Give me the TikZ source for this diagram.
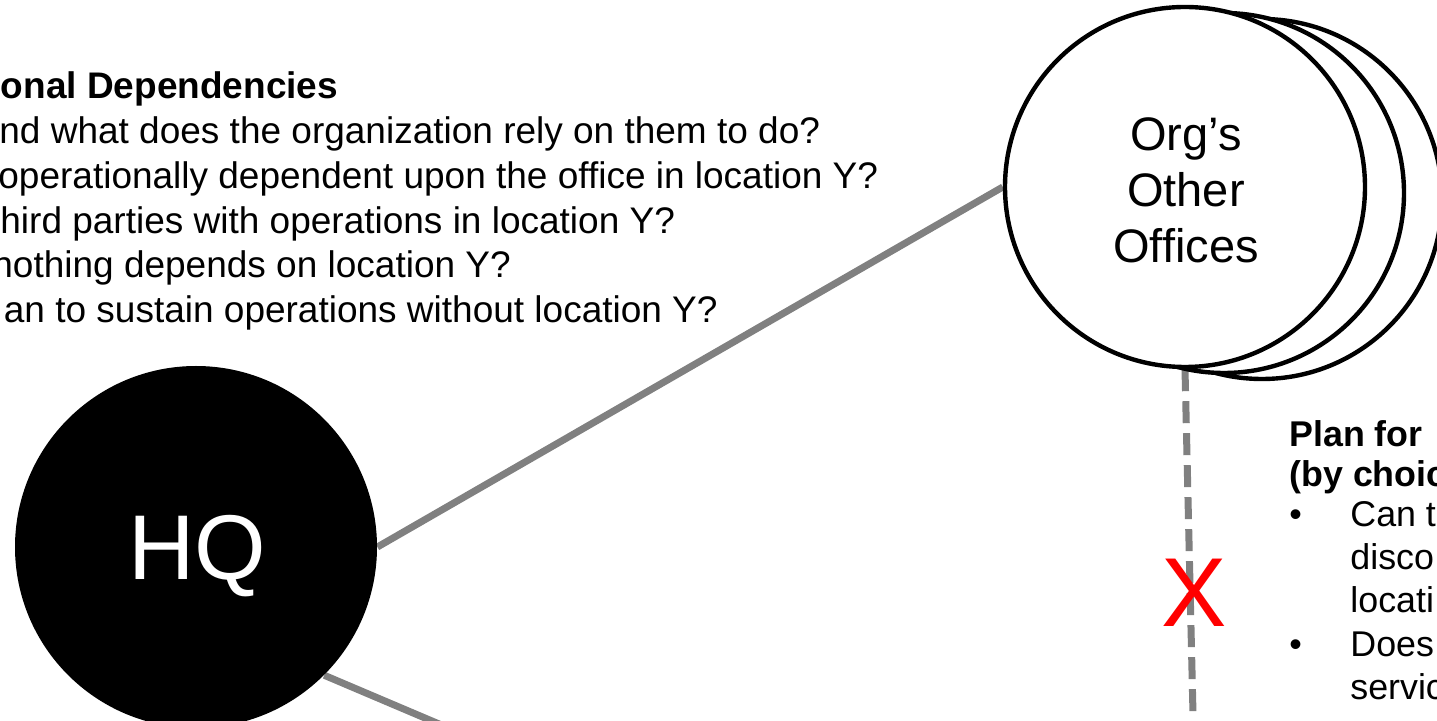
\documentclass[tikz,border=0pt]{standalone}
\usepackage{fontspec}
\setmainfont{Liberation Sans}
\usetikzlibrary{backgrounds}
\definecolor{linkgray}{HTML}{808080}
\definecolor{crossred}{HTML}{FF0000}
\begin{document}
\begin{tikzpicture}[x=0.5pt,y=-0.5pt,
  conn/.style={draw=linkgray, line width=3.5pt},
  office/.style={circle, draw=black, line width=2.2pt, fill=white, minimum size=180pt, inner sep=0pt},
  hub/.style={circle, fill=black, minimum size=181pt, inner sep=0pt},
  lefttxt/.style={anchor=base west, inner sep=0pt, font=\fontsize{18.5}{22.5}\selectfont},
  righttxt/.style={anchor=base west, inner sep=0pt, font=\fontsize{17.9}{21}\selectfont},
  rightbold/.style={righttxt, font=\bfseries\fontsize{17.9}{21}\selectfont},
]
\useasboundingbox (0,0) rectangle (1437,721);
\clip (0,0) rectangle (1437,721);

% questions on operational dependencies
\node[lefttxt, font=\bfseries\fontsize{18.5}{22.5}\selectfont] (q0) at (0.5,99) {onal Dependencies};
\node[lefttxt] (q1) at (-1,144) {nd what does the organization rely on them to do?};
\node[lefttxt] (q2) at (-2,189) {operationally dependent upon the office in location Y?};
\node[lefttxt] (q3) at (0,234) {hird parties with operations in location Y?};
\node[lefttxt] (q4) at (-8,278) {nothing depends on location Y?};
\node[lefttxt] (q5) at (3.5,323) {an to sustain operations without location Y?};

% headquarters
\node[hub] (hq) at (196,547) {};
\node[anchor=base, inner sep=0pt, text=white, font=\fontsize{46}{55}\selectfont] (hqtxt) at (197.5,580) {HQ};

% stack of other offices, back to front
\node[office] (off3) at (1262,199) {};
\node[office] (off2) at (1224,193) {};
\node[office] (off) at (1185,187) {};
\node[align=center, inner sep=0pt, font=\fontsize{23.5}{28}\selectfont] (offtxt) at (1186,190) {Org’s\\Other\\Offices};

% off-page ends of the connectors
\coordinate (far) at (724,845);
\coordinate (below) at (1195,800);

\begin{pgfonlayer}{background}
  \draw[conn] (hq.east) -- (off.west);
  \draw[conn] (hq.south east) -- (far);
  \draw[conn, dash pattern=on 11pt off 5pt] (off.south) -- (below);
\end{pgfonlayer}

% cut link
\node[anchor=base, inner sep=0pt, text=crossred, font=\fontsize{49}{49}\selectfont] (cut) at (1194,627) {X};

% plan for the loss of the office
\node[rightbold] (p0) at (1289,447) {Plan for};
\node[rightbold] (p1) at (1289,487) {(by choic};
\node[righttxt] (b1) at (1289,527) {•};
\node[righttxt] (p2) at (1350,527) {Can t};
\node[righttxt] (p3) at (1350,570) {disco};
\node[righttxt] (p4) at (1350,613) {locati};
\node[righttxt] (b2) at (1289,657) {•};
\node[righttxt] (p5) at (1350,657) {Does};
\node[righttxt] (p6) at (1350,700) {servic};
\end{tikzpicture}
\end{document}
